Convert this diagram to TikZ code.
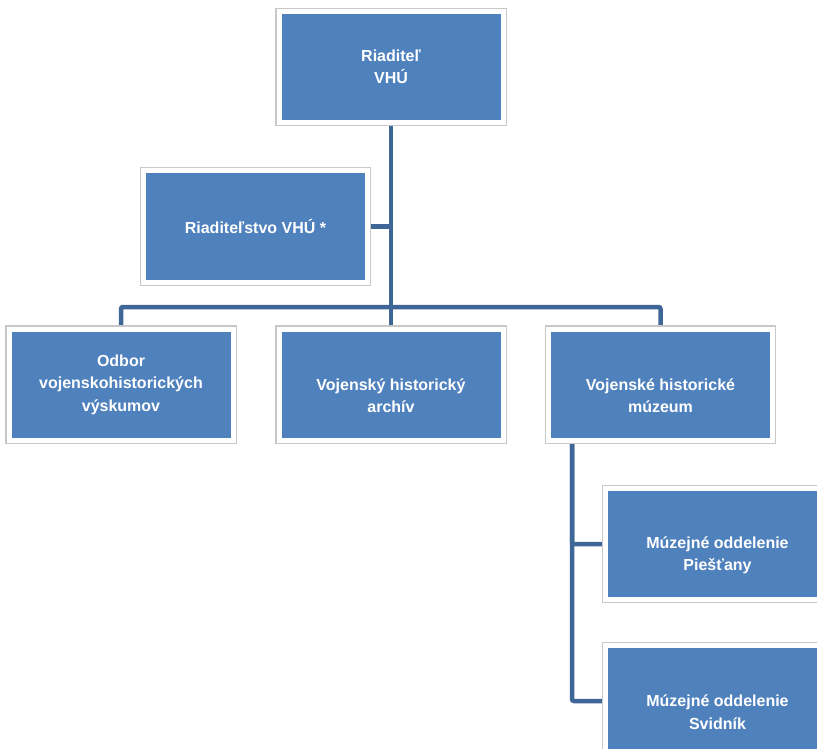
\documentclass[tikz,border=0pt]{standalone}
\usepackage{fontspec}
\setmainfont{Liberation Sans}
\usetikzlibrary{backgrounds}
\definecolor{boxblue}{HTML}{4F81BD}
\definecolor{linkblue}{HTML}{3E6797}
\definecolor{rimgray}{HTML}{C8C8C8}
\tikzstyle{unit} = [rectangle, fill=boxblue, draw=white, line width=5pt, preaction={draw=rimgray, line width=7.5pt}, minimum width=224pt, minimum height=111pt, align=center, text=white, font=\bfseries\fontsize{16}{22.5}\selectfont]
\tikzstyle{link} = [draw=linkblue, line width=4.5pt, rounded corners=2pt]
\begin{document}
\begin{tikzpicture}[x=1pt,y=-1pt]
  \useasboundingbox (0,0) rectangle (817,749);
  \clip (0,0) rectangle (817,749);
  \node at (391,67) (dir) [unit] {Riaditeľ\\VHÚ};
  \node at (255.5,226.5) (staff) [unit] {Riaditeľstvo VHÚ *};
  \node at (121,384.5) (research) [unit] {Odbor\\vojenskohistorických\\výskumov};
  \node at (391,384.5) (archive) [unit] {\vphantom{Ob}\\Vojenský historický\\archív};
  \node at (660.5,384.5) (museum) [unit] {\vphantom{Ob}\\Vojenské historické\\múzeum};
  \node at (717.5,544) (piestany) [unit] {\vphantom{Ob}\\Múzejné oddelenie\\Piešťany};
  \node at (717.5,701) (svidnik) [unit] {\vphantom{Ob}\\Múzejné oddelenie\\Svidník};
  \coordinate (bus) at (391,307);
  \coordinate (branch) at (572,440);
  \begin{scope}[on background layer]
    \path[link] (dir) -- (archive);
    \path[link] (staff) -- (staff -| dir);
    \path[link] (research) |- (bus) -| (museum);
    \path[link] (branch) |- (piestany);
    \path[link] (branch) |- (svidnik);
  \end{scope}
\end{tikzpicture}
\end{document}
